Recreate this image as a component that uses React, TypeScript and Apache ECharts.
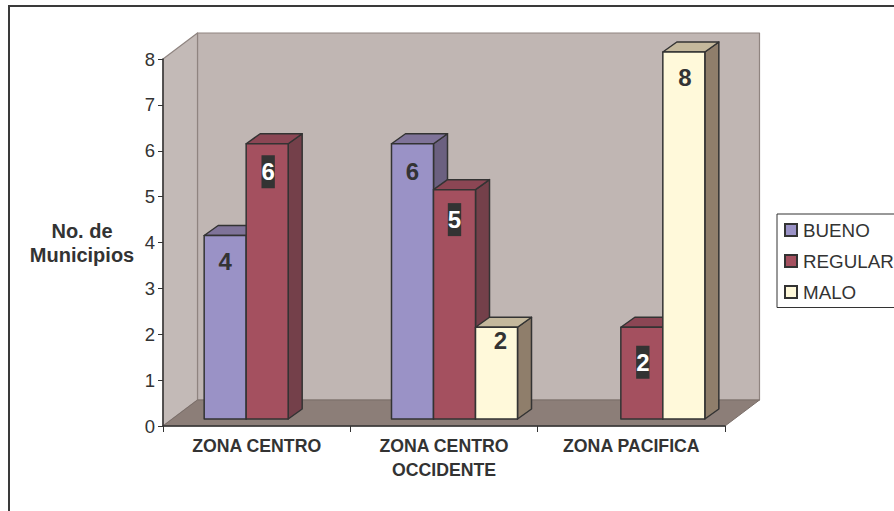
import React, { useEffect, useRef } from "react";
import * as echarts from "echarts";

const zonas = ["ZONA CENTRO", "ZONA CENTRO\nOCCIDENTE", "ZONA PACIFICA"];
const bueno = [4, 6, null];
const regular = [6, 5, 2];
const malo = [null, 2, 8];
const yTicks = { min: 0, max: 8, interval: 1 };

const FONT = '"Liberation Sans", Arial, sans-serif';
const INK = "#333333";

// Shades of each box: front face, right side, top cap.
const shades = [
  { name: "BUENO", front: "#9A92C6", side: "#6B6080", top: "#7F7399", labelOnDark: false },
  { name: "REGULAR", front: "#A4505F", side: "#74404A", top: "#8B4654", labelOnDark: true },
  { name: "MALO", front: "#FFF9DA", side: "#8F7E6B", top: "#C4B89C", labelOnDark: false },
];

// How far each value label sits below its box top, per series and zone.
const labelDrops = [
  [26, 28, 0],
  [28, 30, 35],
  [0, 13, 25],
];
// Sideways nudge of each value label from its box's centre.
const labelNudges = [
  [0, 0, 0],
  [1, 0, 1],
  [0, 4, 1],
];

// Extrusion of the room and of the boxes.
const ROOM_DX = 34.5;
const ROOM_DY = -26;
const BOX_DX = 14;
const BOX_DY = -10;
const FRONT_DX = 10.5;
const FRONT_DY = -7;

const poly = (points: number[][], fill: string, stroke: string, width = 1.5) => ({
  type: "polygon",
  shape: { points },
  style: { fill, stroke, lineWidth: width, lineJoin: "round" },
});

function renderRoom(_params: any, api: any) {
  const y0 = api.coord([0, 0])[1];
  const yTop = api.coord([0, yTicks.max])[1];
  const band = api.size([1, 0])[0];
  const xBase = api.coord([0, 0])[0] - band / 2;
  const xEnd = xBase + band * zonas.length;
  const dx = ROOM_DX;
  const dy = ROOM_DY;
  return {
    type: "group",
    children: [
      poly(
        [[xBase + dx, yTop + dy], [xEnd + dx, yTop + dy], [xEnd + dx, y0 + dy], [xBase + dx, y0 + dy]],
        "#C0B6B3",
        "#8F8480",
        1.2,
      ),
      poly(
        [[xBase, yTop], [xBase + dx, yTop + dy], [xBase + dx, y0 + dy], [xBase, y0]],
        "#C3BAB7",
        "#8F8480",
        1.2,
      ),
      poly(
        [[xBase, y0], [xBase + dx, y0 + dy], [xEnd + dx, y0 + dy], [xEnd, y0]],
        "#8C7E78",
        "#7A6E69",
        1,
      ),
    ],
  };
}

function boxRenderer(seriesIndex: number) {
  const shade = shades[seriesIndex];
  return (_params: any, api: any) => {
    const value = api.value(1);
    if (value === null || value === undefined || Number.isNaN(value)) return null;
    const cat = api.value(0);
    const band = api.size([1, 0])[0];
    const w = band * 0.2242;
    const [cx, yBase] = api.coord([cat, 0]);
    const yVal = api.coord([cat, value])[1];
    const left = cx + FRONT_DX - (w * 3) / 2 + seriesIndex * w;
    const right = left + w;
    const top = yVal + FRONT_DY;
    const bottom = yBase + FRONT_DY;
    const children: any[] = [
      poly(
        [[right, top], [right + BOX_DX, top + BOX_DY], [right + BOX_DX, bottom + BOX_DY], [right, bottom]],
        shade.side,
        INK,
      ),
      poly(
        [[left, top], [left + BOX_DX, top + BOX_DY], [right + BOX_DX, top + BOX_DY], [right, top]],
        shade.top,
        INK,
      ),
      poly([[left, top], [right, top], [right, bottom], [left, bottom]], shade.front, INK),
      {
        type: "text",
        x: left + w / 2 + labelNudges[seriesIndex][cat],
        y: top + labelDrops[seriesIndex][cat],
        style: {
          text: String(value),
          font: `bold 24px ${FONT}`,
          fill: shade.labelOnDark ? "#FFFFFF" : INK,
          align: "center",
          verticalAlign: "middle",
          lineHeight: 33,
          ...(shade.labelOnDark ? { backgroundColor: INK } : {}),
        },
      },
    ];
    return { type: "group", children };
  };
}

export default function App() {
  const ref = useRef<HTMLDivElement>(null);
  useEffect(() => {
    const chart = echarts.init(ref.current!, undefined, { renderer: "svg" });
    const values = [bueno, regular, malo];
    chart.setOption({
      animation: false,
      backgroundColor: "#FFFFFF",
      textStyle: { fontFamily: FONT },
      grid: { left: 163, right: 169, top: 59, bottom: 85, outerBoundsMode: "none", containLabel: false },
      graphic: [
        {
          type: "polyline",
          shape: { points: [[9, 520], [9, 6], [900, 6]] },
          style: { fill: "none", stroke: "#3A3A3A", lineWidth: 2 },
          z: 0,
        },
      ],
      legend: {
        orient: "vertical",
        left: 777,
        top: 214,
        data: shades.map((s) => s.name),
        icon: "rect",
        itemWidth: 12,
        itemHeight: 12,
        itemGap: 12,
        padding: [6.5, 10, 6, 7],
        backgroundColor: "#FFFFFF",
        borderColor: INK,
        borderWidth: 1,
        selectedMode: false,
        textStyle: { fontFamily: FONT, fontSize: 18.8, color: INK, padding: [0, 0, 0, 1] },
      },
      xAxis: {
        type: "category",
        data: zonas,
        z: 5,
        axisTick: { show: true, alignWithLabel: false, length: 6, lineStyle: { color: INK, width: 1 } },
        axisLine: { lineStyle: { color: INK, width: 1.5 } },
        axisLabel: {
          interval: 0,
          fontFamily: FONT,
          fontSize: 17.7,
          fontWeight: "bold",
          color: INK,
          margin: 8,
          lineHeight: 24,
        },
      },
      yAxis: {
        type: "value",
        ...yTicks,
        z: 5,
        name: "No. de\nMunicipios",
        nameLocation: "middle",
        nameRotate: 0,
        nameGap: 81,
        nameTextStyle: {
          fontFamily: FONT,
          fontSize: 20,
          fontWeight: "bold",
          color: INK,
          lineHeight: 24,
          align: "center",
        },
        splitLine: { show: false },
        axisTick: { show: true, length: 5, lineStyle: { color: INK, width: 1 } },
        axisLine: { show: true, lineStyle: { color: INK, width: 1.5 } },
        axisLabel: { fontFamily: FONT, fontSize: 18.5, color: INK, margin: 8 },
      },
      series: [
        {
          type: "custom",
          z: 1,
          silent: true,
          renderItem: renderRoom,
          encode: { x: 0, y: 1 },
          data: [[0, 0]],
        },
        ...shades.map((s, i) => ({
          type: "custom",
          name: s.name,
          z: 6,
          renderItem: boxRenderer(i),
          encode: { x: 0, y: 1 },
          itemStyle: { color: s.front, borderColor: INK, borderWidth: 1.5 },
          data: values[i].map((v, c) => [c, v]),
        })),
      ],
    });
    return () => chart.dispose();
  }, []);
  return (
    <div
      ref={ref}
      style={{ position: "fixed", left: 0, top: 0, width: 894, height: 511, overflow: "hidden" }}
    />
  );
}
